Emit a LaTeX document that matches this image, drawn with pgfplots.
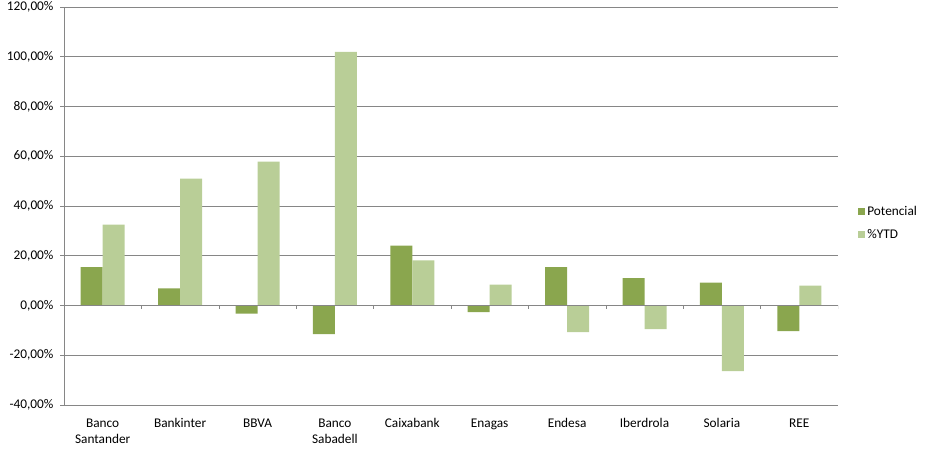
\documentclass[border=0pt]{standalone}
\usepackage{pgfplots}
\pgfplotsset{compat=1.18}
\usepackage{fontspec}
\setmainfont{Carlito}
\definecolor{potc}{RGB}{138,166,78}
\definecolor{ytdc}{RGB}{185,206,151}
\definecolor{gridc}{RGB}{134,134,134}
\begin{document}
\begin{tikzpicture}
\path[use as bounding box] (0,0) rectangle (932bp,452bp);
\begin{axis}[
  at={(64bp,47bp)}, anchor=south west,
  width=774bp, height=398bp, scale only axis,
  font=\fontsize{13.3bp}{16bp}\selectfont,
  ybar=0pt, bar width=22bp,
  xmin=-0.5, xmax=9.5, ymin=-40, ymax=120,
  ytick={-40,-20,0,20,40,60,80,100,120},
  yticklabels={{-40,00\%},{-20,00\%},{0,00\%},{20,00\%},{40,00\%},{60,00\%},{80,00\%},{100,00\%},{120,00\%}},
  yticklabel style={xshift=-3bp},
  xtick={0,...,9},
  xticklabels={{Banco\\Santander},Bankinter,BBVA,{Banco\\Sabadell},Caixabank,Enagas,Endesa,Iberdrola,Solaria,REE},
  xticklabel style={align=center, yshift=-6bp},
  x tick style={draw=none},
  y tick style={gridc, line width=0.6pt},
  major tick length=4bp,
  tick align=outside,
  axis lines*=left,
  axis line style={gridc, line width=0.6pt},
  ymajorgrids,
  grid style={gridc, line width=0.6pt},
  /pgf/number format/assume math mode=true,
  legend style={at={(1.026,0.457)}, anchor=west, draw=none, fill=none,
    font=\fontsize{13.3bp}{16bp}\selectfont, row sep=8bp, inner sep=0pt,
    legend cell align=left},
  legend image code/.code={\fill[#1] (0bp,-3.5bp) rectangle (7bp,3.5bp);},
]
\addplot[fill=potc, draw=none] coordinates {
 (0,15.4) (1,6.9) (2,-3.3) (3,-11.5) (4,24.1) (5,-2.7) (6,15.4) (7,11.0) (8,9.2) (9,-10.3)};
\addplot[fill=ytdc, draw=none] coordinates {
 (0,32.5) (1,51.0) (2,57.8) (3,102.0) (4,18.1) (5,8.4) (6,-10.7) (7,-9.5) (8,-26.4) (9,8.0)};
\legend{Potencial,\%YTD}
\draw[gridc, line width=0.6pt] (axis cs:-0.5,0) -- (axis cs:9.5,0);
\pgfplotsinvokeforeach{-0.5,0.5,1.5,2.5,3.5,4.5,5.5,6.5,7.5,8.5,9.5}{
  \draw[gridc, line width=0.6pt] (axis cs:#1,0) -- ++(0bp,-4bp);
}
\end{axis}
\end{tikzpicture}
\end{document}
